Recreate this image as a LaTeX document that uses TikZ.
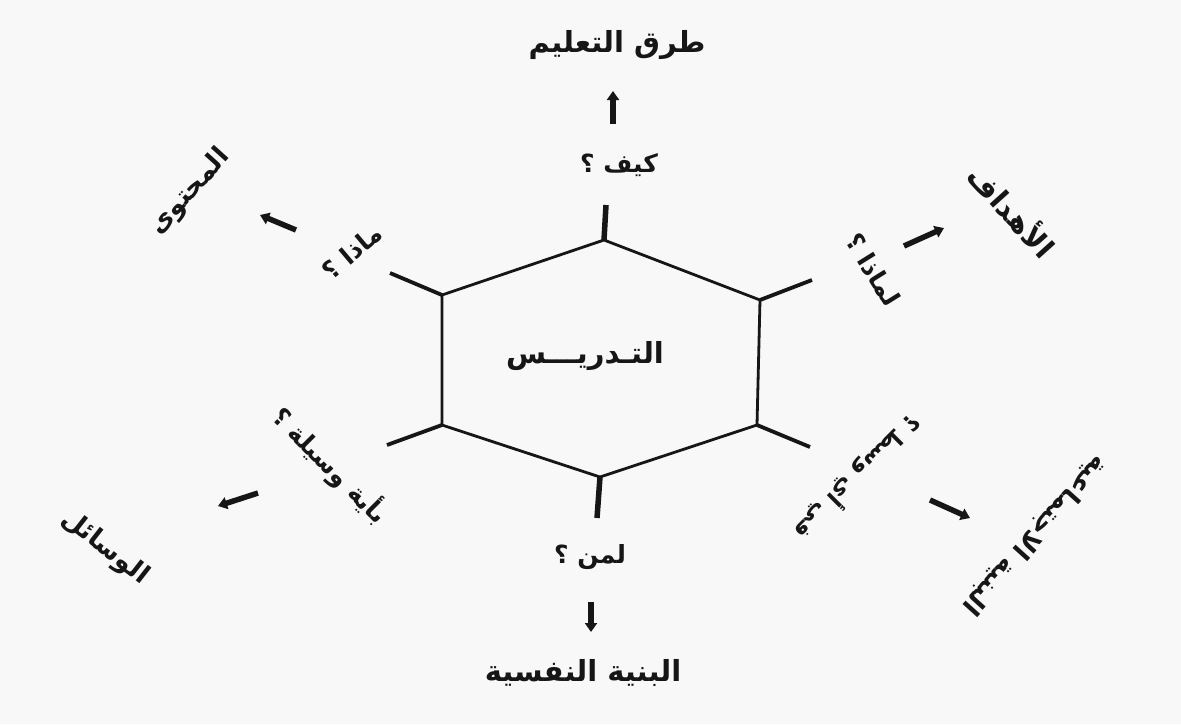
\documentclass[tikz,border=0pt]{standalone}
\usepackage{fontspec}
\usetikzlibrary{arrows.meta}
\newfontfamily\arabicfont[Script=Arabic]{DejaVu Sans}
\TeXXeTstate=1
\definecolor{paper}{RGB}{248,248,248}
\definecolor{ink}{RGB}{22,22,22}
\begin{document}
\begin{tikzpicture}[x=1pt,y=-1pt,
  lbl/.style={font=\arabicfont\bfseries\fontsize{25}{29}\selectfont, inner sep=0pt, text=ink},
  outerlbl/.style={lbl, font=\arabicfont\bfseries\fontsize{29}{33}\selectfont},
  smallouter/.style={lbl, font=\arabicfont\bfseries\fontsize{26}{30}\selectfont},
  hexedge/.style={draw=ink, line width=2.8pt, line join=miter},
  stubline/.style={draw=ink, line width=3.8pt},
  bigstub/.style={draw=ink, line width=5.5pt},
  arr/.style={draw=ink, line width=5.5pt, -{Triangle[length=9pt,width=12pt]}}]
\fill[paper] (0,0) rectangle (1181,724);
\useasboundingbox (0,0) rectangle (1181,724);
% hexagon vertices
\coordinate (T) at (604,240);
\coordinate (UR) at (760,300);
\coordinate (LR) at (757,425);
\coordinate (B) at (600,477);
\coordinate (LL) at (442,425);
\coordinate (UL) at (442,295);
% stub ends
\coordinate (sT) at (606,205);
\coordinate (sUR) at (812,280);
\coordinate (sLR) at (810,447);
\coordinate (sB) at (597,518);
\coordinate (sLL) at (387,445);
\coordinate (sUL) at (390,273);
\draw[hexedge] (T) -- (UR) -- (LR) -- (B) -- (LL) -- (UL) -- cycle;
\draw[bigstub] (T) -- (sT);
\draw[bigstub] (B) -- (sB);
\draw[stubline] (UR) -- (sUR);
\draw[stubline] (LR) -- (sLR);
\draw[stubline] (LL) -- (sLL);
\draw[stubline] (UL) -- (sUL);
% centre
\node[lbl, font=\arabicfont\bfseries\fontsize{29}{33}\selectfont] (centre) at (585,356) {\beginR التـدريـــس\endR};
% inner labels
\node[lbl] (topI) at (619,165) {\beginR كيف ؟\endR};
\node[lbl, rotate=40] (ulI) at (352,252) {\beginR ماذا ؟\endR};
\node[lbl, rotate=-58] (urI) at (873,270) {\beginR لماذا ؟\endR};
\node[lbl, rotate=-45] (llI) at (330,465) {\beginR بأية وسيلة ؟\endR};
\node[lbl, rotate=-135, font=\arabicfont\bfseries\fontsize{23}{27}\selectfont] (lrI) at (858,477) {\beginR في أي وسط ؟\endR};
\node[lbl] (bI) at (590,557) {\beginR لمن ؟\endR};
% outer labels
\node[outerlbl] (topO) at (617,45) {\beginR طرق التعليم\endR};
\node[smallouter, rotate=48] (ulO) at (190,192) {\beginR المحتوى\endR};
\node[outerlbl, rotate=-48] (urO) at (1013,210) {\beginR الأهداف\endR};
\node[smallouter, rotate=-38] (llO) at (105,548) {\beginR الوسائل\endR};
\node[smallouter, rotate=-132] (lrO) at (1035,535) {\beginR البنية الاجتماعية\endR};
\node[outerlbl] (bO) at (583,673) {\beginR البنية النفسية\endR};
% arrows
\coordinate (aTt) at (613,124);
\coordinate (aTh) at (613,91);
\coordinate (aULt) at (296,230);
\coordinate (aULh) at (260,215);
\coordinate (aURt) at (904,246);
\coordinate (aURh) at (944,228);
\coordinate (aLLt) at (258,493);
\coordinate (aLLh) at (218,506);
\coordinate (aLRt) at (930,500);
\coordinate (aLRh) at (970,518);
\coordinate (aBt) at (591,602);
\coordinate (aBh) at (591,632);
\draw[arr] (aTt) -- (aTh);
\draw[arr] (aULt) -- (aULh);
\draw[arr] (aURt) -- (aURh);
\draw[arr] (aLLt) -- (aLLh);
\draw[arr] (aLRt) -- (aLRh);
\draw[arr] (aBt) -- (aBh);
\end{tikzpicture}
\end{document}
